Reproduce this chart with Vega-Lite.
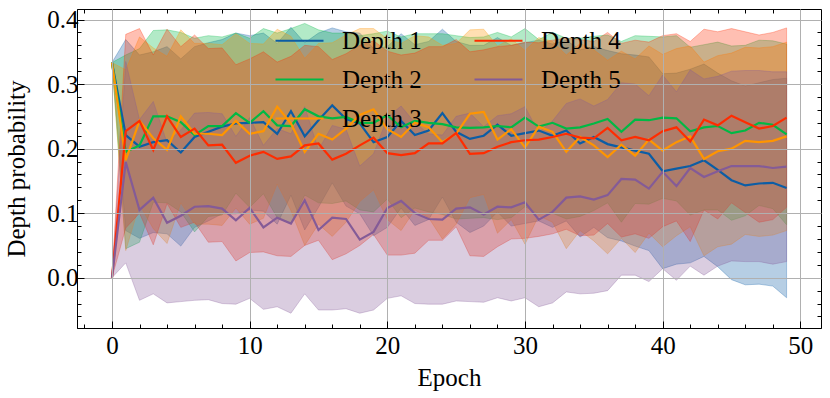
{
"$schema":"https://vega.github.io/schema/vega-lite/v6.json",
"width":744,"height":319,
"autosize":{"type":"none"},
"padding":{"left":77,"top":9,"right":9,"bottom":70},
"background":"white",
"config":{"view":{"stroke":"black","strokeWidth":1},"font":"Liberation Serif"},
"data":{"values":[
{"series":"Depth 1","epoch":0,"mean":0.3333,"lo":0.3333,"hi":0.3333},
{"series":"Depth 1","epoch":1,"mean":0.221,"lo":0.073,"hi":0.369},
{"series":"Depth 1","epoch":2,"mean":0.203,"lo":0.061,"hi":0.345},
{"series":"Depth 1","epoch":3,"mean":0.210,"lo":0.070,"hi":0.350},
{"series":"Depth 1","epoch":4,"mean":0.213,"lo":0.068,"hi":0.358},
{"series":"Depth 1","epoch":5,"mean":0.194,"lo":0.049,"hi":0.339},
{"series":"Depth 1","epoch":6,"mean":0.218,"lo":0.078,"hi":0.358},
{"series":"Depth 1","epoch":7,"mean":0.226,"lo":0.088,"hi":0.364},
{"series":"Depth 1","epoch":8,"mean":0.234,"lo":0.099,"hi":0.369},
{"series":"Depth 1","epoch":9,"mean":0.239,"lo":0.099,"hi":0.379},
{"series":"Depth 1","epoch":10,"mean":0.240,"lo":0.105,"hi":0.375},
{"series":"Depth 1","epoch":11,"mean":0.241,"lo":0.103,"hi":0.379},
{"series":"Depth 1","epoch":12,"mean":0.223,"lo":0.083,"hi":0.363},
{"series":"Depth 1","epoch":13,"mean":0.258,"lo":0.128,"hi":0.388},
{"series":"Depth 1","epoch":14,"mean":0.219,"lo":0.074,"hi":0.364},
{"series":"Depth 1","epoch":15,"mean":0.244,"lo":0.109,"hi":0.379},
{"series":"Depth 1","epoch":16,"mean":0.267,"lo":0.147,"hi":0.387},
{"series":"Depth 1","epoch":17,"mean":0.246,"lo":0.111,"hi":0.381},
{"series":"Depth 1","epoch":18,"mean":0.239,"lo":0.099,"hi":0.379},
{"series":"Depth 1","epoch":19,"mean":0.210,"lo":0.065,"hi":0.355},
{"series":"Depth 1","epoch":20,"mean":0.218,"lo":0.078,"hi":0.358},
{"series":"Depth 1","epoch":21,"mean":0.243,"lo":0.108,"hi":0.378},
{"series":"Depth 1","epoch":22,"mean":0.221,"lo":0.081,"hi":0.361},
{"series":"Depth 1","epoch":23,"mean":0.228,"lo":0.090,"hi":0.366},
{"series":"Depth 1","epoch":24,"mean":0.255,"lo":0.125,"hi":0.385},
{"series":"Depth 1","epoch":25,"mean":0.226,"lo":0.086,"hi":0.366},
{"series":"Depth 1","epoch":26,"mean":0.215,"lo":0.070,"hi":0.360},
{"series":"Depth 1","epoch":27,"mean":0.220,"lo":0.080,"hi":0.360},
{"series":"Depth 1","epoch":28,"mean":0.237,"lo":0.102,"hi":0.372},
{"series":"Depth 1","epoch":29,"mean":0.220,"lo":0.080,"hi":0.360},
{"series":"Depth 1","epoch":30,"mean":0.224,"lo":0.084,"hi":0.364},
{"series":"Depth 1","epoch":31,"mean":0.228,"lo":0.088,"hi":0.368},
{"series":"Depth 1","epoch":32,"mean":0.220,"lo":0.078,"hi":0.362},
{"series":"Depth 1","epoch":33,"mean":0.228,"lo":0.088,"hi":0.368},
{"series":"Depth 1","epoch":34,"mean":0.208,"lo":0.063,"hi":0.353},
{"series":"Depth 1","epoch":35,"mean":0.218,"lo":0.078,"hi":0.358},
{"series":"Depth 1","epoch":36,"mean":0.207,"lo":0.062,"hi":0.352},
{"series":"Depth 1","epoch":37,"mean":0.202,"lo":0.057,"hi":0.347},
{"series":"Depth 1","epoch":38,"mean":0.197,"lo":0.049,"hi":0.345},
{"series":"Depth 1","epoch":39,"mean":0.192,"lo":0.042,"hi":0.342},
{"series":"Depth 1","epoch":40,"mean":0.165,"lo":0.014,"hi":0.316},
{"series":"Depth 1","epoch":41,"mean":0.169,"lo":0.021,"hi":0.317},
{"series":"Depth 1","epoch":42,"mean":0.173,"lo":0.023,"hi":0.323},
{"series":"Depth 1","epoch":43,"mean":0.182,"lo":0.033,"hi":0.331},
{"series":"Depth 1","epoch":44,"mean":0.167,"lo":0.017,"hi":0.317},
{"series":"Depth 1","epoch":45,"mean":0.151,"lo":-0.003,"hi":0.305},
{"series":"Depth 1","epoch":46,"mean":0.143,"lo":-0.011,"hi":0.297},
{"series":"Depth 1","epoch":47,"mean":0.146,"lo":-0.010,"hi":0.302},
{"series":"Depth 1","epoch":48,"mean":0.147,"lo":-0.013,"hi":0.307},
{"series":"Depth 1","epoch":49,"mean":0.139,"lo":-0.031,"hi":0.309},
{"series":"Depth 2","epoch":0,"mean":0.3333,"lo":0.3333,"hi":0.3333},
{"series":"Depth 2","epoch":1,"mean":0.195,"lo":0.045,"hi":0.345},
{"series":"Depth 2","epoch":2,"mean":0.205,"lo":0.055,"hi":0.355},
{"series":"Depth 2","epoch":3,"mean":0.250,"lo":0.117,"hi":0.383},
{"series":"Depth 2","epoch":4,"mean":0.250,"lo":0.116,"hi":0.384},
{"series":"Depth 2","epoch":5,"mean":0.241,"lo":0.102,"hi":0.380},
{"series":"Depth 2","epoch":6,"mean":0.221,"lo":0.071,"hi":0.371},
{"series":"Depth 2","epoch":7,"mean":0.235,"lo":0.095,"hi":0.375},
{"series":"Depth 2","epoch":8,"mean":0.235,"lo":0.097,"hi":0.373},
{"series":"Depth 2","epoch":9,"mean":0.255,"lo":0.131,"hi":0.379},
{"series":"Depth 2","epoch":10,"mean":0.240,"lo":0.109,"hi":0.371},
{"series":"Depth 2","epoch":11,"mean":0.258,"lo":0.130,"hi":0.386},
{"series":"Depth 2","epoch":12,"mean":0.236,"lo":0.093,"hi":0.379},
{"series":"Depth 2","epoch":13,"mean":0.235,"lo":0.084,"hi":0.386},
{"series":"Depth 2","epoch":14,"mean":0.261,"lo":0.128,"hi":0.394},
{"series":"Depth 2","epoch":15,"mean":0.250,"lo":0.116,"hi":0.384},
{"series":"Depth 2","epoch":16,"mean":0.247,"lo":0.115,"hi":0.379},
{"series":"Depth 2","epoch":17,"mean":0.249,"lo":0.119,"hi":0.379},
{"series":"Depth 2","epoch":18,"mean":0.240,"lo":0.105,"hi":0.375},
{"series":"Depth 2","epoch":19,"mean":0.240,"lo":0.102,"hi":0.378},
{"series":"Depth 2","epoch":20,"mean":0.252,"lo":0.122,"hi":0.382},
{"series":"Depth 2","epoch":21,"mean":0.233,"lo":0.093,"hi":0.373},
{"series":"Depth 2","epoch":22,"mean":0.243,"lo":0.108,"hi":0.378},
{"series":"Depth 2","epoch":23,"mean":0.240,"lo":0.102,"hi":0.378},
{"series":"Depth 2","epoch":24,"mean":0.238,"lo":0.098,"hi":0.378},
{"series":"Depth 2","epoch":25,"mean":0.233,"lo":0.091,"hi":0.375},
{"series":"Depth 2","epoch":26,"mean":0.232,"lo":0.092,"hi":0.372},
{"series":"Depth 2","epoch":27,"mean":0.233,"lo":0.093,"hi":0.373},
{"series":"Depth 2","epoch":28,"mean":0.235,"lo":0.090,"hi":0.380},
{"series":"Depth 2","epoch":29,"mean":0.233,"lo":0.093,"hi":0.373},
{"series":"Depth 2","epoch":30,"mean":0.248,"lo":0.110,"hi":0.386},
{"series":"Depth 2","epoch":31,"mean":0.234,"lo":0.099,"hi":0.369},
{"series":"Depth 2","epoch":32,"mean":0.240,"lo":0.100,"hi":0.380},
{"series":"Depth 2","epoch":33,"mean":0.231,"lo":0.091,"hi":0.371},
{"series":"Depth 2","epoch":34,"mean":0.233,"lo":0.095,"hi":0.371},
{"series":"Depth 2","epoch":35,"mean":0.239,"lo":0.104,"hi":0.374},
{"series":"Depth 2","epoch":36,"mean":0.246,"lo":0.116,"hi":0.376},
{"series":"Depth 2","epoch":37,"mean":0.226,"lo":0.086,"hi":0.366},
{"series":"Depth 2","epoch":38,"mean":0.245,"lo":0.115,"hi":0.375},
{"series":"Depth 2","epoch":39,"mean":0.244,"lo":0.114,"hi":0.374},
{"series":"Depth 2","epoch":40,"mean":0.248,"lo":0.123,"hi":0.373},
{"series":"Depth 2","epoch":41,"mean":0.247,"lo":0.119,"hi":0.375},
{"series":"Depth 2","epoch":42,"mean":0.227,"lo":0.097,"hi":0.357},
{"series":"Depth 2","epoch":43,"mean":0.233,"lo":0.105,"hi":0.361},
{"series":"Depth 2","epoch":44,"mean":0.235,"lo":0.105,"hi":0.365},
{"series":"Depth 2","epoch":45,"mean":0.224,"lo":0.089,"hi":0.359},
{"series":"Depth 2","epoch":46,"mean":0.228,"lo":0.096,"hi":0.360},
{"series":"Depth 2","epoch":47,"mean":0.240,"lo":0.112,"hi":0.368},
{"series":"Depth 2","epoch":48,"mean":0.237,"lo":0.107,"hi":0.367},
{"series":"Depth 2","epoch":49,"mean":0.222,"lo":0.082,"hi":0.362},
{"series":"Depth 3","epoch":0,"mean":0.3333,"lo":0.3333,"hi":0.3333},
{"series":"Depth 3","epoch":1,"mean":0.182,"lo":0.042,"hi":0.322},
{"series":"Depth 3","epoch":2,"mean":0.243,"lo":0.113,"hi":0.373},
{"series":"Depth 3","epoch":3,"mean":0.216,"lo":0.076,"hi":0.356},
{"series":"Depth 3","epoch":4,"mean":0.198,"lo":0.053,"hi":0.343},
{"series":"Depth 3","epoch":5,"mean":0.250,"lo":0.116,"hi":0.384},
{"series":"Depth 3","epoch":6,"mean":0.223,"lo":0.083,"hi":0.363},
{"series":"Depth 3","epoch":7,"mean":0.223,"lo":0.083,"hi":0.363},
{"series":"Depth 3","epoch":8,"mean":0.221,"lo":0.081,"hi":0.361},
{"series":"Depth 3","epoch":9,"mean":0.243,"lo":0.108,"hi":0.378},
{"series":"Depth 3","epoch":10,"mean":0.223,"lo":0.083,"hi":0.363},
{"series":"Depth 3","epoch":11,"mean":0.227,"lo":0.092,"hi":0.362},
{"series":"Depth 3","epoch":12,"mean":0.265,"lo":0.145,"hi":0.385},
{"series":"Depth 3","epoch":13,"mean":0.239,"lo":0.104,"hi":0.374},
{"series":"Depth 3","epoch":14,"mean":0.195,"lo":0.050,"hi":0.340},
{"series":"Depth 3","epoch":15,"mean":0.223,"lo":0.083,"hi":0.363},
{"series":"Depth 3","epoch":16,"mean":0.214,"lo":0.064,"hi":0.364},
{"series":"Depth 3","epoch":17,"mean":0.231,"lo":0.086,"hi":0.376},
{"series":"Depth 3","epoch":18,"mean":0.252,"lo":0.118,"hi":0.386},
{"series":"Depth 3","epoch":19,"mean":0.261,"lo":0.136,"hi":0.386},
{"series":"Depth 3","epoch":20,"mean":0.230,"lo":0.090,"hi":0.370},
{"series":"Depth 3","epoch":21,"mean":0.218,"lo":0.073,"hi":0.363},
{"series":"Depth 3","epoch":22,"mean":0.240,"lo":0.105,"hi":0.375},
{"series":"Depth 3","epoch":23,"mean":0.233,"lo":0.093,"hi":0.373},
{"series":"Depth 3","epoch":24,"mean":0.210,"lo":0.060,"hi":0.360},
{"series":"Depth 3","epoch":25,"mean":0.223,"lo":0.083,"hi":0.363},
{"series":"Depth 3","epoch":26,"mean":0.254,"lo":0.124,"hi":0.384},
{"series":"Depth 3","epoch":27,"mean":0.257,"lo":0.129,"hi":0.385},
{"series":"Depth 3","epoch":28,"mean":0.214,"lo":0.069,"hi":0.359},
{"series":"Depth 3","epoch":29,"mean":0.230,"lo":0.090,"hi":0.370},
{"series":"Depth 3","epoch":30,"mean":0.202,"lo":0.052,"hi":0.352},
{"series":"Depth 3","epoch":31,"mean":0.234,"lo":0.096,"hi":0.372},
{"series":"Depth 3","epoch":32,"mean":0.226,"lo":0.086,"hi":0.366},
{"series":"Depth 3","epoch":33,"mean":0.195,"lo":0.045,"hi":0.345},
{"series":"Depth 3","epoch":34,"mean":0.218,"lo":0.073,"hi":0.363},
{"series":"Depth 3","epoch":35,"mean":0.205,"lo":0.057,"hi":0.353},
{"series":"Depth 3","epoch":36,"mean":0.187,"lo":0.037,"hi":0.337},
{"series":"Depth 3","epoch":37,"mean":0.206,"lo":0.061,"hi":0.351},
{"series":"Depth 3","epoch":38,"mean":0.189,"lo":0.039,"hi":0.339},
{"series":"Depth 3","epoch":39,"mean":0.214,"lo":0.069,"hi":0.359},
{"series":"Depth 3","epoch":40,"mean":0.197,"lo":0.048,"hi":0.346},
{"series":"Depth 3","epoch":41,"mean":0.210,"lo":0.065,"hi":0.355},
{"series":"Depth 3","epoch":42,"mean":0.219,"lo":0.079,"hi":0.359},
{"series":"Depth 3","epoch":43,"mean":0.184,"lo":0.034,"hi":0.334},
{"series":"Depth 3","epoch":44,"mean":0.196,"lo":0.048,"hi":0.344},
{"series":"Depth 3","epoch":45,"mean":0.200,"lo":0.052,"hi":0.348},
{"series":"Depth 3","epoch":46,"mean":0.212,"lo":0.067,"hi":0.357},
{"series":"Depth 3","epoch":47,"mean":0.210,"lo":0.064,"hi":0.356},
{"series":"Depth 3","epoch":48,"mean":0.212,"lo":0.066,"hi":0.358},
{"series":"Depth 3","epoch":49,"mean":0.219,"lo":0.073,"hi":0.365},
{"series":"Depth 4","epoch":0,"mean":0.0,"lo":0.0,"hi":0.0},
{"series":"Depth 4","epoch":1,"mean":0.227,"lo":0.077,"hi":0.377},
{"series":"Depth 4","epoch":2,"mean":0.243,"lo":0.100,"hi":0.386},
{"series":"Depth 4","epoch":3,"mean":0.198,"lo":0.051,"hi":0.345},
{"series":"Depth 4","epoch":4,"mean":0.250,"lo":0.115,"hi":0.385},
{"series":"Depth 4","epoch":5,"mean":0.218,"lo":0.078,"hi":0.358},
{"series":"Depth 4","epoch":6,"mean":0.231,"lo":0.086,"hi":0.376},
{"series":"Depth 4","epoch":7,"mean":0.205,"lo":0.055,"hi":0.355},
{"series":"Depth 4","epoch":8,"mean":0.206,"lo":0.056,"hi":0.356},
{"series":"Depth 4","epoch":9,"mean":0.178,"lo":0.026,"hi":0.330},
{"series":"Depth 4","epoch":10,"mean":0.189,"lo":0.039,"hi":0.339},
{"series":"Depth 4","epoch":11,"mean":0.195,"lo":0.040,"hi":0.350},
{"series":"Depth 4","epoch":12,"mean":0.184,"lo":0.034,"hi":0.334},
{"series":"Depth 4","epoch":13,"mean":0.188,"lo":0.033,"hi":0.343},
{"series":"Depth 4","epoch":14,"mean":0.205,"lo":0.050,"hi":0.360},
{"series":"Depth 4","epoch":15,"mean":0.208,"lo":0.058,"hi":0.358},
{"series":"Depth 4","epoch":16,"mean":0.183,"lo":0.028,"hi":0.338},
{"series":"Depth 4","epoch":17,"mean":0.192,"lo":0.037,"hi":0.347},
{"series":"Depth 4","epoch":18,"mean":0.205,"lo":0.050,"hi":0.360},
{"series":"Depth 4","epoch":19,"mean":0.217,"lo":0.067,"hi":0.367},
{"series":"Depth 4","epoch":20,"mean":0.193,"lo":0.035,"hi":0.351},
{"series":"Depth 4","epoch":21,"mean":0.190,"lo":0.035,"hi":0.345},
{"series":"Depth 4","epoch":22,"mean":0.193,"lo":0.038,"hi":0.348},
{"series":"Depth 4","epoch":23,"mean":0.208,"lo":0.058,"hi":0.358},
{"series":"Depth 4","epoch":24,"mean":0.208,"lo":0.058,"hi":0.358},
{"series":"Depth 4","epoch":25,"mean":0.224,"lo":0.079,"hi":0.369},
{"series":"Depth 4","epoch":26,"mean":0.192,"lo":0.034,"hi":0.350},
{"series":"Depth 4","epoch":27,"mean":0.193,"lo":0.033,"hi":0.353},
{"series":"Depth 4","epoch":28,"mean":0.203,"lo":0.048,"hi":0.358},
{"series":"Depth 4","epoch":29,"mean":0.210,"lo":0.060,"hi":0.360},
{"series":"Depth 4","epoch":30,"mean":0.213,"lo":0.061,"hi":0.365},
{"series":"Depth 4","epoch":31,"mean":0.214,"lo":0.064,"hi":0.364},
{"series":"Depth 4","epoch":32,"mean":0.218,"lo":0.068,"hi":0.368},
{"series":"Depth 4","epoch":33,"mean":0.223,"lo":0.075,"hi":0.371},
{"series":"Depth 4","epoch":34,"mean":0.217,"lo":0.065,"hi":0.369},
{"series":"Depth 4","epoch":35,"mean":0.216,"lo":0.066,"hi":0.366},
{"series":"Depth 4","epoch":36,"mean":0.232,"lo":0.084,"hi":0.380},
{"series":"Depth 4","epoch":37,"mean":0.213,"lo":0.063,"hi":0.363},
{"series":"Depth 4","epoch":38,"mean":0.218,"lo":0.068,"hi":0.368},
{"series":"Depth 4","epoch":39,"mean":0.213,"lo":0.061,"hi":0.365},
{"series":"Depth 4","epoch":40,"mean":0.227,"lo":0.079,"hi":0.375},
{"series":"Depth 4","epoch":41,"mean":0.233,"lo":0.088,"hi":0.378},
{"series":"Depth 4","epoch":42,"mean":0.211,"lo":0.056,"hi":0.366},
{"series":"Depth 4","epoch":43,"mean":0.245,"lo":0.105,"hi":0.385},
{"series":"Depth 4","epoch":44,"mean":0.236,"lo":0.091,"hi":0.381},
{"series":"Depth 4","epoch":45,"mean":0.251,"lo":0.116,"hi":0.386},
{"series":"Depth 4","epoch":46,"mean":0.241,"lo":0.101,"hi":0.381},
{"series":"Depth 4","epoch":47,"mean":0.231,"lo":0.086,"hi":0.376},
{"series":"Depth 4","epoch":48,"mean":0.235,"lo":0.090,"hi":0.380},
{"series":"Depth 4","epoch":49,"mean":0.248,"lo":0.109,"hi":0.387},
{"series":"Depth 5","epoch":0,"mean":0.0,"lo":0.0,"hi":0.0},
{"series":"Depth 5","epoch":1,"mean":0.179,"lo":0.023,"hi":0.335},
{"series":"Depth 5","epoch":2,"mean":0.105,"lo":-0.035,"hi":0.245},
{"series":"Depth 5","epoch":3,"mean":0.124,"lo":-0.025,"hi":0.273},
{"series":"Depth 5","epoch":4,"mean":0.085,"lo":-0.039,"hi":0.209},
{"series":"Depth 5","epoch":5,"mean":0.096,"lo":-0.037,"hi":0.229},
{"series":"Depth 5","epoch":6,"mean":0.110,"lo":-0.035,"hi":0.255},
{"series":"Depth 5","epoch":7,"mean":0.111,"lo":-0.034,"hi":0.256},
{"series":"Depth 5","epoch":8,"mean":0.107,"lo":-0.040,"hi":0.254},
{"series":"Depth 5","epoch":9,"mean":0.089,"lo":-0.041,"hi":0.219},
{"series":"Depth 5","epoch":10,"mean":0.108,"lo":-0.032,"hi":0.248},
{"series":"Depth 5","epoch":11,"mean":0.078,"lo":-0.049,"hi":0.205},
{"series":"Depth 5","epoch":12,"mean":0.093,"lo":-0.045,"hi":0.231},
{"series":"Depth 5","epoch":13,"mean":0.084,"lo":-0.055,"hi":0.223},
{"series":"Depth 5","epoch":14,"mean":0.120,"lo":-0.025,"hi":0.265},
{"series":"Depth 5","epoch":15,"mean":0.074,"lo":-0.050,"hi":0.198},
{"series":"Depth 5","epoch":16,"mean":0.093,"lo":-0.050,"hi":0.236},
{"series":"Depth 5","epoch":17,"mean":0.091,"lo":-0.048,"hi":0.230},
{"series":"Depth 5","epoch":18,"mean":0.059,"lo":-0.055,"hi":0.173},
{"series":"Depth 5","epoch":19,"mean":0.071,"lo":-0.050,"hi":0.192},
{"series":"Depth 5","epoch":20,"mean":0.108,"lo":-0.032,"hi":0.248},
{"series":"Depth 5","epoch":21,"mean":0.119,"lo":-0.028,"hi":0.266},
{"series":"Depth 5","epoch":22,"mean":0.100,"lo":-0.040,"hi":0.240},
{"series":"Depth 5","epoch":23,"mean":0.091,"lo":-0.041,"hi":0.223},
{"series":"Depth 5","epoch":24,"mean":0.090,"lo":-0.041,"hi":0.221},
{"series":"Depth 5","epoch":25,"mean":0.107,"lo":-0.036,"hi":0.250},
{"series":"Depth 5","epoch":26,"mean":0.109,"lo":-0.037,"hi":0.255},
{"series":"Depth 5","epoch":27,"mean":0.098,"lo":-0.038,"hi":0.234},
{"series":"Depth 5","epoch":28,"mean":0.110,"lo":-0.031,"hi":0.251},
{"series":"Depth 5","epoch":29,"mean":0.109,"lo":-0.036,"hi":0.254},
{"series":"Depth 5","epoch":30,"mean":0.117,"lo":-0.031,"hi":0.265},
{"series":"Depth 5","epoch":31,"mean":0.090,"lo":-0.045,"hi":0.225},
{"series":"Depth 5","epoch":32,"mean":0.102,"lo":-0.039,"hi":0.243},
{"series":"Depth 5","epoch":33,"mean":0.124,"lo":-0.022,"hi":0.270},
{"series":"Depth 5","epoch":34,"mean":0.126,"lo":-0.025,"hi":0.277},
{"series":"Depth 5","epoch":35,"mean":0.121,"lo":-0.024,"hi":0.266},
{"series":"Depth 5","epoch":36,"mean":0.128,"lo":-0.020,"hi":0.276},
{"series":"Depth 5","epoch":37,"mean":0.153,"lo":0.004,"hi":0.302},
{"series":"Depth 5","epoch":38,"mean":0.152,"lo":0.004,"hi":0.300},
{"series":"Depth 5","epoch":39,"mean":0.138,"lo":-0.006,"hi":0.282},
{"series":"Depth 5","epoch":40,"mean":0.164,"lo":0.014,"hi":0.314},
{"series":"Depth 5","epoch":41,"mean":0.142,"lo":-0.004,"hi":0.288},
{"series":"Depth 5","epoch":42,"mean":0.170,"lo":0.018,"hi":0.322},
{"series":"Depth 5","epoch":43,"mean":0.156,"lo":0.004,"hi":0.308},
{"series":"Depth 5","epoch":44,"mean":0.165,"lo":0.018,"hi":0.312},
{"series":"Depth 5","epoch":45,"mean":0.173,"lo":0.026,"hi":0.320},
{"series":"Depth 5","epoch":46,"mean":0.173,"lo":0.025,"hi":0.321},
{"series":"Depth 5","epoch":47,"mean":0.173,"lo":0.025,"hi":0.321},
{"series":"Depth 5","epoch":48,"mean":0.170,"lo":0.021,"hi":0.319},
{"series":"Depth 5","epoch":49,"mean":0.172,"lo":0.025,"hi":0.319}
]},
"layer":[
{"mark":{"type":"area","fillOpacity":0.3,"strokeOpacity":0.3,"strokeWidth":1,"clip":true},
 "encoding":{
  "x":{"field":"epoch","type":"quantitative","scale":{"domain":[-2.54,51.5],"nice":false,"zero":false},
   "axis":{"orient":"bottom","values":[-2,0,2,4,6,8,10,12,14,16,18,20,22,24,26,28,30,32,34,36,38,40,42,44,46,48,50],
    "title":"Epoch","titleFont":"Liberation Serif","titleFontSize":25,"titleFontWeight":"normal","titleColor":"black","titlePadding":4,
    "labelFont":"Liberation Serif","labelFontSize":25,"labelColor":"black","labelPadding":12,"labelOverlap":false,"labelFlush":false,
    "labelExpr":"datum.value % 10 === 0 ? datum.label : ''",
    "tickColor":"black","tickWidth":1,"tickSize":{"condition":{"test":"datum.value % 10 === 0","value":-7},"value":-4},
    "domainColor":"black","domainWidth":1,
    "grid":true,"gridColor":"#b0b0b0","gridWidth":1,"gridOpacity":{"condition":{"test":"datum.value % 10 === 0","value":1},"value":0},
    "zindex":1}},
  "y":{"field":"lo","type":"quantitative","scale":{"domain":[-0.0779,0.4163],"nice":false,"zero":false},
   "axis":{"orient":"left","values":[-0.06,-0.04,-0.02,0,0.02,0.04,0.06,0.08,0.1,0.12,0.14,0.16,0.18,0.2,0.22,0.24,0.26,0.28,0.3,0.32,0.34,0.36,0.38,0.4],
    "title":"Depth probability","titleFont":"Liberation Serif","titleFontSize":25,"titleFontWeight":"normal","titleColor":"black","titlePadding":17,
    "labelFont":"Liberation Serif","labelFontSize":25,"labelColor":"black","labelPadding":6,"labelOverlap":false,"labelFlush":false,
    "labelExpr":"abs(datum.value*10 - round(datum.value*10)) < 0.001 ? format(datum.value, '.1f') : ''",
    "tickColor":"black","tickWidth":1,"tickSize":{"condition":{"test":"abs(datum.value*10 - round(datum.value*10)) < 0.001","value":-7},"value":-4},
    "domainColor":"black","domainWidth":1,
    "grid":true,"gridColor":"#b0b0b0","gridWidth":1,"gridOpacity":{"condition":{"test":"abs(datum.value*10 - round(datum.value*10)) < 0.001","value":1},"value":0},
    "zindex":1}},
  "y2":{"field":"hi"},
  "fill":{"field":"series","type":"nominal","scale":{"domain":["Depth 1","Depth 2","Depth 3","Depth 4","Depth 5"],"range":["#0C5DA5","#00B945","#FF9500","#FF2C00","#845B97"]},"legend":null},
  "stroke":{"field":"series","type":"nominal","scale":{"domain":["Depth 1","Depth 2","Depth 3","Depth 4","Depth 5"],"range":["#0C5DA5","#00B945","#FF9500","#FF2C00","#845B97"]},"legend":null}
 }},
{"mark":{"type":"line","strokeWidth":2.2,"clip":true},
 "encoding":{
  "x":{"field":"epoch","type":"quantitative",
   "axis":{"orient":"top","values":[-2,0,2,4,6,8,10,12,14,16,18,20,22,24,26,28,30,32,34,36,38,40,42,44,46,48,50],"title":null,"labels":false,"grid":false,"domain":false,
    "tickColor":"black","tickWidth":1,"tickSize":{"condition":{"test":"datum.value % 10 === 0","value":-7},"value":-4}}},
  "y":{"field":"mean","type":"quantitative",
   "axis":{"orient":"right","values":[-0.06,-0.04,-0.02,0,0.02,0.04,0.06,0.08,0.1,0.12,0.14,0.16,0.18,0.2,0.22,0.24,0.26,0.28,0.3,0.32,0.34,0.36,0.38,0.4],"title":null,"labels":false,"grid":false,"domain":false,
    "tickColor":"black","tickWidth":1,"tickSize":{"condition":{"test":"abs(datum.value*10 - round(datum.value*10)) < 0.001","value":-7},"value":-4}}},
  "color":{"field":"series","type":"nominal","scale":{"domain":["Depth 1","Depth 4","Depth 2","Depth 5","Depth 3"],"range":["#0C5DA5","#FF2C00","#00B945","#845B97","#FF9500"]},
   "legend":{"orient":"none","legendX":197,"legendY":6,"columns":2,"direction":"horizontal","title":null,"padding":0,
    "symbolType":"stroke","symbolSize":2304,"symbolStrokeWidth":2.2,"labelFont":"Liberation Serif","labelFontSize":25,"labelColor":"black","labelOffset":17,"labelLimit":0,
    "columnPadding":48,"rowPadding":-6}}
 }}
],
"resolve":{"axis":{"x":"independent","y":"independent"}}
}
